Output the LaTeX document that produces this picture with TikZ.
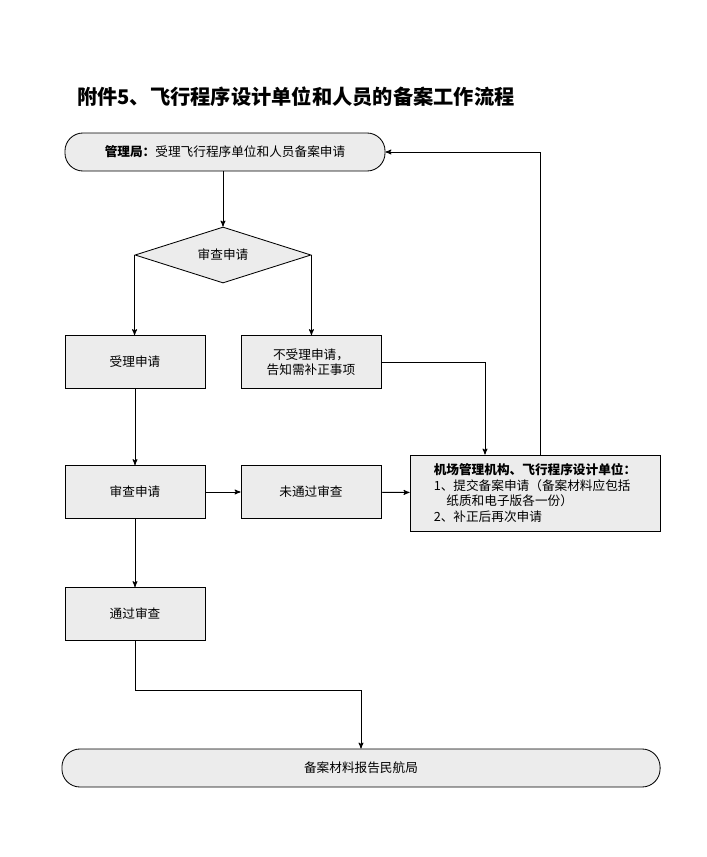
\documentclass[tikz,border=0pt]{standalone}
\usepackage{fontspec}
\setmainfont{Noto Sans CJK SC}
\usetikzlibrary{shapes,arrows,positioning}

\begin{document}
\begin{tikzpicture}[x=0.025cm,y=-0.025cm,->,>=stealth',semithick,font=\small]
	\tikzstyle{box}=[draw, fill=gray!15, rectangle, minimum width=3.5cm, minimum height=1.32cm, align=center]
	\tikzstyle{term}=[draw, fill=gray!15, rounded corners=0.45cm, minimum height=0.95cm]
	\useasboundingbox (0,0) rectangle (707,857);
	\node[font=\Large\bfseries, anchor=west] (TITLE) at (72,97) {附件5、飞行程序设计单位和人员的备案工作流程};
	\node[term, minimum width=8cm] (TOP) at (225,152) {\textbf{管理局：}受理飞行程序单位和人员备案申请};
	\node[draw, fill=gray!15, diamond, aspect=3.2, minimum width=4.4cm, minimum height=1.4cm, inner sep=0pt] (CHECK) at (223,255) {审查申请};
	\node[box] (ACCEPT) at (135,362) {受理申请};
	\node[box] (REJECT) at (311,362) {不受理申请，\\告知需补正事项};
	\node[box] (REVIEW) at (135,492) {审查申请};
	\node[box] (FAIL) at (311,492) {未通过审查};
	\node[box, minimum width=6.25cm, minimum height=1.9cm, align=left] (APPLY) at (535,493)
		{\textbf{机场管理机构、飞行程序设计单位：}\\1、提交备案申请（备案材料应包括\\\quad 纸质和电子版各一份）\\2、补正后再次申请};
	\node[box] (PASS) at (135,614) {通过审查};
	\node[term, minimum width=14.95cm] (REPORT) at (361,768) {备案材料报告民航局};
	\draw (TOP.south -| CHECK.north) -- (CHECK.north);
	\draw (CHECK.west) -- (CHECK.west |- ACCEPT.north);
	\draw (CHECK.east) -- (CHECK.east |- REJECT.north);
	\draw (ACCEPT) -- (REVIEW);
	\draw (REVIEW) -- (FAIL);
	\draw (FAIL) -- (APPLY);
	\draw (REJECT.east) -| (APPLY.north -| 485,0);
	\draw (APPLY.north -| 540,0) |- (TOP.east);
	\draw (REVIEW) -- (PASS);
	\draw (PASS.south) |- (361,690) -- (REPORT.north);
\end{tikzpicture}
\end{document}
